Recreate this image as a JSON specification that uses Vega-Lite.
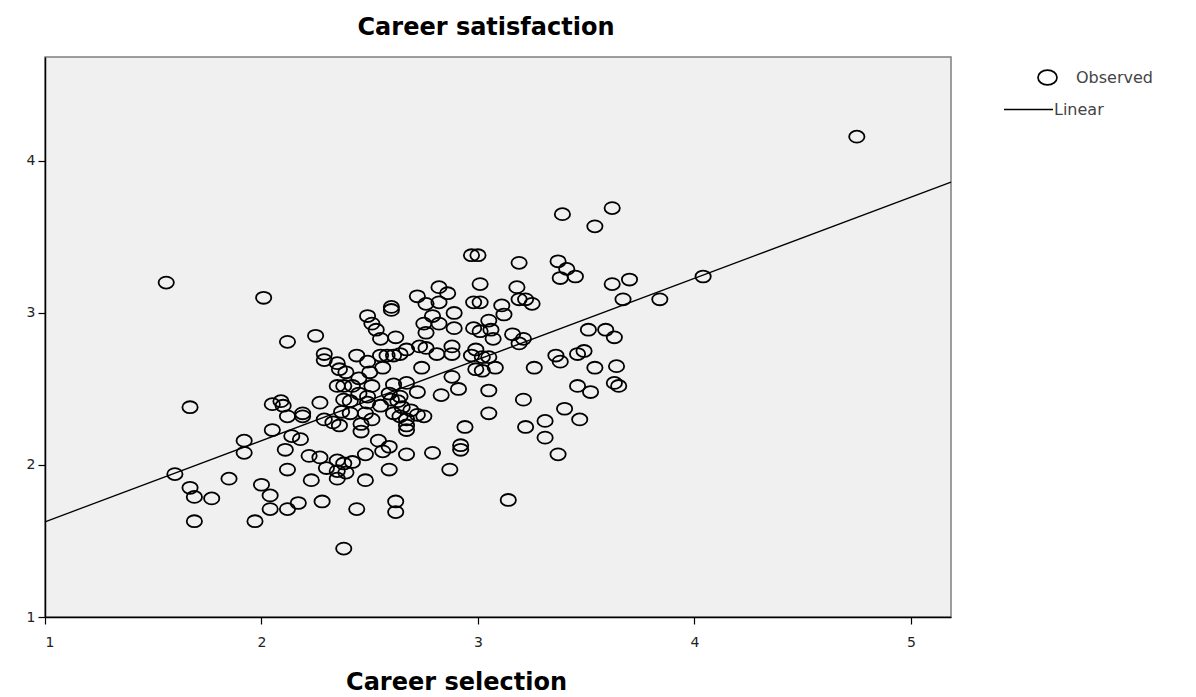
{
  "$schema": "https://vega.github.io/schema/vega-lite/v6.json",
  "width": 906,
  "height": 560,
  "autosize": {"type": "none"},
  "padding": {"left": 45, "top": 57, "right": 245, "bottom": 80},
  "background": "white",
  "title": {"text": "Career satisfaction", "font": "DejaVu Sans", "fontSize": 24, "fontWeight": "bold", "color": "black", "dx": -12, "offset": -2, "baseline": "alphabetic", "frame": "group"},
  "config": {"view": {"fill": "#f0f0f0", "stroke": "#7f7f7f", "strokeWidth": 1.5}},
  "datasets": {
    "observed": [
      {"selection":1.56,"satisfaction":3.20},{"selection":1.60,"satisfaction":1.94},{"selection":1.67,"satisfaction":2.38},{"selection":1.67,"satisfaction":1.85},
      {"selection":1.69,"satisfaction":1.79},{"selection":1.77,"satisfaction":1.78},{"selection":1.69,"satisfaction":1.63},{"selection":1.85,"satisfaction":1.91},
      {"selection":1.92,"satisfaction":2.16},{"selection":1.92,"satisfaction":2.08},{"selection":1.97,"satisfaction":1.63},{"selection":2.00,"satisfaction":1.87},
      {"selection":2.01,"satisfaction":3.10},{"selection":2.04,"satisfaction":1.80},{"selection":2.04,"satisfaction":1.71},{"selection":2.05,"satisfaction":2.23},
      {"selection":2.05,"satisfaction":2.40},{"selection":2.09,"satisfaction":2.42},{"selection":2.10,"satisfaction":2.39},{"selection":2.11,"satisfaction":2.10},
      {"selection":2.12,"satisfaction":1.97},{"selection":2.12,"satisfaction":1.71},{"selection":2.12,"satisfaction":2.81},{"selection":2.12,"satisfaction":2.32},
      {"selection":2.14,"satisfaction":2.19},{"selection":2.17,"satisfaction":1.75},{"selection":2.18,"satisfaction":2.17},{"selection":2.19,"satisfaction":2.34},
      {"selection":2.19,"satisfaction":2.32},{"selection":2.22,"satisfaction":2.06},{"selection":2.23,"satisfaction":1.90},{"selection":2.25,"satisfaction":2.85},
      {"selection":2.27,"satisfaction":2.41},{"selection":2.27,"satisfaction":2.05},{"selection":2.28,"satisfaction":1.76},{"selection":2.29,"satisfaction":2.73},
      {"selection":2.29,"satisfaction":2.69},{"selection":2.29,"satisfaction":2.30},{"selection":2.30,"satisfaction":1.98},{"selection":2.33,"satisfaction":2.28},
      {"selection":2.36,"satisfaction":2.26},{"selection":2.35,"satisfaction":2.03},{"selection":2.38,"satisfaction":2.01},{"selection":2.42,"satisfaction":2.02},
      {"selection":2.35,"satisfaction":1.96},{"selection":2.39,"satisfaction":1.95},{"selection":2.35,"satisfaction":1.91},{"selection":2.35,"satisfaction":2.67},
      {"selection":2.36,"satisfaction":2.63},{"selection":2.39,"satisfaction":2.61},{"selection":2.35,"satisfaction":2.52},{"selection":2.38,"satisfaction":2.52},
      {"selection":2.42,"satisfaction":2.52},{"selection":2.38,"satisfaction":2.43},{"selection":2.41,"satisfaction":2.42},{"selection":2.37,"satisfaction":2.35},
      {"selection":2.41,"satisfaction":2.34},{"selection":2.38,"satisfaction":1.45},{"selection":2.44,"satisfaction":1.71},{"selection":2.44,"satisfaction":2.72},
      {"selection":2.45,"satisfaction":2.57},{"selection":2.45,"satisfaction":2.47},{"selection":2.46,"satisfaction":2.27},{"selection":2.46,"satisfaction":2.22},
      {"selection":2.48,"satisfaction":2.07},{"selection":2.48,"satisfaction":1.90},{"selection":2.49,"satisfaction":2.45},{"selection":2.49,"satisfaction":2.41},
      {"selection":2.48,"satisfaction":2.34},{"selection":2.49,"satisfaction":2.98},{"selection":2.49,"satisfaction":2.68},{"selection":2.50,"satisfaction":2.61},
      {"selection":2.51,"satisfaction":2.93},{"selection":2.51,"satisfaction":2.52},{"selection":2.51,"satisfaction":2.30},{"selection":2.53,"satisfaction":2.89},
      {"selection":2.54,"satisfaction":2.16},{"selection":2.55,"satisfaction":2.83},{"selection":2.55,"satisfaction":2.72},{"selection":2.55,"satisfaction":2.39},
      {"selection":2.56,"satisfaction":2.09},{"selection":2.56,"satisfaction":2.64},{"selection":2.58,"satisfaction":2.72},{"selection":2.59,"satisfaction":2.47},
      {"selection":2.59,"satisfaction":1.97},{"selection":2.59,"satisfaction":2.12},{"selection":2.60,"satisfaction":3.04},{"selection":2.60,"satisfaction":3.02},
      {"selection":2.60,"satisfaction":2.43},{"selection":2.61,"satisfaction":2.72},{"selection":2.61,"satisfaction":2.53},{"selection":2.61,"satisfaction":2.34},
      {"selection":2.62,"satisfaction":2.84},{"selection":2.62,"satisfaction":1.76},{"selection":2.62,"satisfaction":1.69},{"selection":2.63,"satisfaction":2.42},
      {"selection":2.64,"satisfaction":2.73},{"selection":2.64,"satisfaction":2.45},{"selection":2.64,"satisfaction":2.32},{"selection":2.65,"satisfaction":2.38},
      {"selection":2.67,"satisfaction":2.76},{"selection":2.67,"satisfaction":2.30},{"selection":2.67,"satisfaction":2.26},{"selection":2.67,"satisfaction":2.23},
      {"selection":2.67,"satisfaction":2.07},{"selection":2.67,"satisfaction":2.54},{"selection":2.69,"satisfaction":2.36},{"selection":2.72,"satisfaction":3.11},
      {"selection":2.72,"satisfaction":2.48},{"selection":2.72,"satisfaction":2.33},{"selection":2.73,"satisfaction":2.78},{"selection":2.74,"satisfaction":2.64},
      {"selection":2.75,"satisfaction":2.32},{"selection":2.75,"satisfaction":2.93},{"selection":2.76,"satisfaction":3.06},{"selection":2.76,"satisfaction":2.77},
      {"selection":2.76,"satisfaction":2.87},{"selection":2.79,"satisfaction":2.98},{"selection":2.79,"satisfaction":2.08},{"selection":2.81,"satisfaction":2.73},
      {"selection":2.82,"satisfaction":3.17},{"selection":2.82,"satisfaction":3.07},{"selection":2.82,"satisfaction":2.93},{"selection":2.83,"satisfaction":2.46},
      {"selection":2.86,"satisfaction":3.13},{"selection":2.87,"satisfaction":1.97},{"selection":2.88,"satisfaction":2.78},{"selection":2.88,"satisfaction":2.73},
      {"selection":2.88,"satisfaction":2.58},{"selection":2.89,"satisfaction":3.00},{"selection":2.89,"satisfaction":2.90},{"selection":2.91,"satisfaction":2.50},
      {"selection":2.92,"satisfaction":2.13},{"selection":2.92,"satisfaction":2.10},{"selection":2.94,"satisfaction":2.25},{"selection":2.97,"satisfaction":3.38},
      {"selection":3.00,"satisfaction":3.38},{"selection":2.98,"satisfaction":3.07},{"selection":3.01,"satisfaction":3.07},{"selection":2.98,"satisfaction":2.90},
      {"selection":3.01,"satisfaction":2.88},{"selection":2.97,"satisfaction":2.72},{"selection":3.02,"satisfaction":2.71},{"selection":2.99,"satisfaction":2.76},
      {"selection":2.99,"satisfaction":2.63},{"selection":3.02,"satisfaction":2.62},{"selection":3.01,"satisfaction":3.19},{"selection":3.05,"satisfaction":2.34},
      {"selection":3.05,"satisfaction":2.95},{"selection":3.05,"satisfaction":2.49},{"selection":3.05,"satisfaction":2.71},{"selection":3.06,"satisfaction":2.89},
      {"selection":3.07,"satisfaction":2.83},{"selection":3.08,"satisfaction":2.64},{"selection":3.11,"satisfaction":3.05},{"selection":3.12,"satisfaction":2.99},
      {"selection":3.14,"satisfaction":1.77},{"selection":3.16,"satisfaction":2.86},{"selection":3.18,"satisfaction":3.17},{"selection":3.19,"satisfaction":3.33},
      {"selection":3.19,"satisfaction":3.09},{"selection":3.19,"satisfaction":2.80},{"selection":3.21,"satisfaction":2.83},{"selection":3.21,"satisfaction":2.43},
      {"selection":3.22,"satisfaction":3.09},{"selection":3.22,"satisfaction":2.25},{"selection":3.25,"satisfaction":3.06},{"selection":3.26,"satisfaction":2.64},
      {"selection":3.31,"satisfaction":2.29},{"selection":3.31,"satisfaction":2.18},{"selection":3.36,"satisfaction":2.72},{"selection":3.37,"satisfaction":3.34},
      {"selection":3.37,"satisfaction":2.07},{"selection":3.38,"satisfaction":3.23},{"selection":3.38,"satisfaction":2.68},{"selection":3.39,"satisfaction":3.65},
      {"selection":3.40,"satisfaction":2.37},{"selection":3.41,"satisfaction":3.29},{"selection":3.45,"satisfaction":3.24},{"selection":3.46,"satisfaction":2.73},
      {"selection":3.46,"satisfaction":2.52},{"selection":3.47,"satisfaction":2.30},{"selection":3.49,"satisfaction":2.75},{"selection":3.51,"satisfaction":2.89},
      {"selection":3.52,"satisfaction":2.48},{"selection":3.54,"satisfaction":3.57},{"selection":3.54,"satisfaction":2.64},{"selection":3.59,"satisfaction":2.89},
      {"selection":3.62,"satisfaction":3.19},{"selection":3.62,"satisfaction":3.69},{"selection":3.63,"satisfaction":2.84},{"selection":3.63,"satisfaction":2.54},
      {"selection":3.64,"satisfaction":2.65},{"selection":3.65,"satisfaction":2.52},{"selection":3.67,"satisfaction":3.09},{"selection":3.70,"satisfaction":3.22},
      {"selection":3.84,"satisfaction":3.09},{"selection":4.04,"satisfaction":3.24},{"selection":4.75,"satisfaction":4.16}
    ],
    "linear": [
      {"selection":1.0,"satisfaction":1.626},{"selection":5.185,"satisfaction":3.861}
    ]
  },
  "layer": [
    {
      "data": {"name": "observed"},
      "mark": {"type": "point", "filled": false, "stroke": "black", "strokeWidth": 1.8, "opacity": 1},
      "encoding": {
        "x": {"field": "selection", "type": "quantitative",
          "scale": {"domain": [1, 5.185], "nice": false, "zero": false},
          "axis": {"values": [1,2,3,4,5], "format": "d", "grid": false, "tickSize": 7, "tickColor": "black", "tickWidth": 1.2,
            "domainColor": "black", "domainWidth": 1.5, "labelFont": "DejaVu Sans", "labelFontSize": 14, "labelColor": "#222222", "labelPadding": 11,
            "title": "Career selection", "titleFont": "DejaVu Sans", "titleFontSize": 24, "titleFontWeight": "bold", "titleColor": "black",
            "titleX": 411, "titleY": 72, "titleBaseline": "alphabetic", "titleAlign": "center"}},
        "y": {"field": "satisfaction", "type": "quantitative",
          "scale": {"domain": [1, 4.684], "nice": false, "zero": false},
          "axis": {"values": [1,2,3,4], "format": "d", "grid": false, "tickSize": 7, "tickColor": "black", "tickWidth": 1.2,
            "domainColor": "black", "domainWidth": 1.5, "labelFont": "DejaVu Sans", "labelFontSize": 14, "labelColor": "#222222", "labelPadding": 3,
            "title": null}},
        "shape": {"datum": "Observed", "type": "nominal",
          "scale": {"domain": ["Observed"], "range": ["M1,0C1,0.43 0.55,0.78 0,0.78C-0.55,0.78 -1,0.43 -1,0C-1,-0.43 -0.55,-0.78 0,-0.78C0.55,-0.78 1,-0.43 1,0Z"]},
          "legend": {"title": null, "orient": "none", "legendX": 992, "legendY": 10, "padding": 0, "symbolSize": 361,
            "symbolFillColor": "transparent", "symbolStrokeColor": "black", "symbolStrokeWidth": 1.7,
            "labelFont": "DejaVu Sans", "labelFontSize": 16, "labelColor": "#444444", "labelOffset": 18}},
        "size": {"value": 234}
      }
    },
    {
      "data": {"name": "linear"},
      "mark": {"type": "line", "strokeWidth": 1.3},
      "encoding": {
        "x": {"field": "selection", "type": "quantitative"},
        "y": {"field": "satisfaction", "type": "quantitative"},
        "color": {"datum": "Linear", "type": "nominal",
          "scale": {"domain": ["Linear"], "range": ["black"]},
          "legend": {"title": null, "orient": "none", "legendX": 958, "legendY": 27, "padding": 0, "symbolType": "stroke", "symbolSize": 2401,
            "symbolStrokeWidth": 1.3, "symbolStrokeColor": "black",
            "labelFont": "DejaVu Sans", "labelFontSize": 16, "labelColor": "#444444", "labelOffset": 0}}
      }
    }
  ]
}
